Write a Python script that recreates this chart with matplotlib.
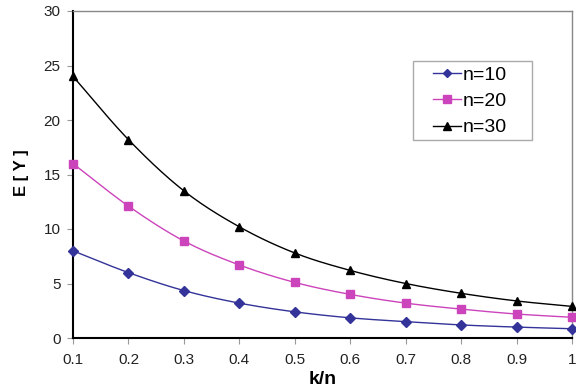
import numpy as np
import matplotlib
matplotlib.use("Agg")
import matplotlib.pyplot as plt
from matplotlib.patches import Rectangle

plt.rcParams['font.family'] = ['Liberation Sans', 'DejaVu Sans']

k_over_n = [0.1, 0.2, 0.3, 0.4, 0.5, 0.6, 0.7, 0.8, 0.9, 1.0]
ey_n10 = [8.0, 6.0, 4.35, 3.2, 2.4, 1.85, 1.5, 1.2, 1.0, 0.85]
ey_n20 = [16.0, 12.1, 8.9, 6.7, 5.1, 4.0, 3.2, 2.65, 2.2, 1.9]
ey_n30 = [24.0, 18.2, 13.5, 10.2, 7.8, 6.2, 5.0, 4.1, 3.4, 2.9]
x_tick_labels = ["0.1", "0.2", "0.3", "0.4", "0.5", "0.6", "0.7", "0.8", "0.9", "1"]

series = [
    ("n=10", ey_n10, "#333399", "D", 5, 4),
    ("n=20", ey_n20, "#CC44BB", "s", 6, 5.5),
    ("n=30", ey_n30, "#000000", "^", 6, 5.5),
]


def smooth(x, y, steps=20):
    """Catmull-Rom curve through the given points (smoothed line)."""
    x = np.asarray(x, float)
    y = np.asarray(y, float)
    px = np.concatenate([[2 * x[0] - x[1]], x, [2 * x[-1] - x[-2]]])
    py = np.concatenate([[2 * y[0] - y[1]], y, [2 * y[-1] - y[-2]]])
    xs, ys = [], []
    t = np.linspace(0, 1, steps, endpoint=False)
    for i in range(1, len(px) - 2):
        p0, p1, p2, p3 = (np.array([px[j], py[j]]) for j in range(i - 1, i + 3))
        tt = t[:, None]
        pts = 0.5 * ((2 * p1) + (-p0 + p2) * tt + (2 * p0 - 5 * p1 + 4 * p2 - p3) * tt ** 2
                     + (-p0 + 3 * p1 - 3 * p2 + p3) * tt ** 3)
        xs.extend(pts[:, 0])
        ys.extend(pts[:, 1])
    xs.append(x[-1])
    ys.append(y[-1])
    return np.array(xs), np.array(ys)


W, H = 576, 392
fig = plt.figure(figsize=(W / 100, H / 100), dpi=100)
ax = fig.add_axes([73 / W, 1 - 338 / H, 499 / W, 327 / H])

for label, vals, color, marker, ms, lms in series:
    sx, sy = smooth(k_over_n, vals)
    ax.plot(sx, sy, color=color, lw=1.0, clip_on=False, zorder=3)
    ax.plot(k_over_n, vals, linestyle='none', marker=marker, color=color,
            markersize=ms, clip_on=False, zorder=4)
    ax.plot([], [], color=color, lw=1.0, marker=marker, markersize=lms, label=label)

ax.set_xlim(0.1, 1.0)
ax.set_ylim(0, 30)
ax.set_xticks(k_over_n)
ax.set_xticklabels(x_tick_labels)
ax.set_yticks([0, 5, 10, 15, 20, 25, 30])

for side in ("top", "right"):
    ax.spines[side].set_color("#888888")
    ax.spines[side].set_linewidth(1.0)
for side in ("left", "bottom"):
    ax.spines[side].set_color("#000000")
    ax.spines[side].set_linewidth(1.5)

ax.tick_params(axis='both', direction='out', length=4, width=0.8, labelsize=11,
               color='#999999', labelcolor='#222222')
ax.tick_params(axis='y', pad=5)
ax.tick_params(axis='x', pad=7)

ax.set_xlabel("k/n", fontsize=14, fontweight='bold', labelpad=3)
ax.set_ylabel("E [ Y ]", fontsize=12, fontweight='bold')
ax.yaxis.set_label_coords(-0.088, 0.505)

# legend frame drawn separately so the entries can sit inset from it
ax.add_patch(Rectangle((413 / W, 1 - 140 / H), 119 / W, 79 / H,
                       transform=fig.transFigure, facecolor='white',
                       edgecolor='#aaaaaa', linewidth=1.0, zorder=5,
                       clip_on=False))
leg = ax.legend(loc='upper left', bbox_to_anchor=(433 / W, 1 - 66 / H),
                bbox_transform=fig.transFigure, fontsize=14, frameon=False,
                handlelength=1.45, handletextpad=0.1, borderpad=0,
                labelspacing=0.45, borderaxespad=0)
leg.set_zorder(6)

fig.savefig("out.png", dpi=100)
